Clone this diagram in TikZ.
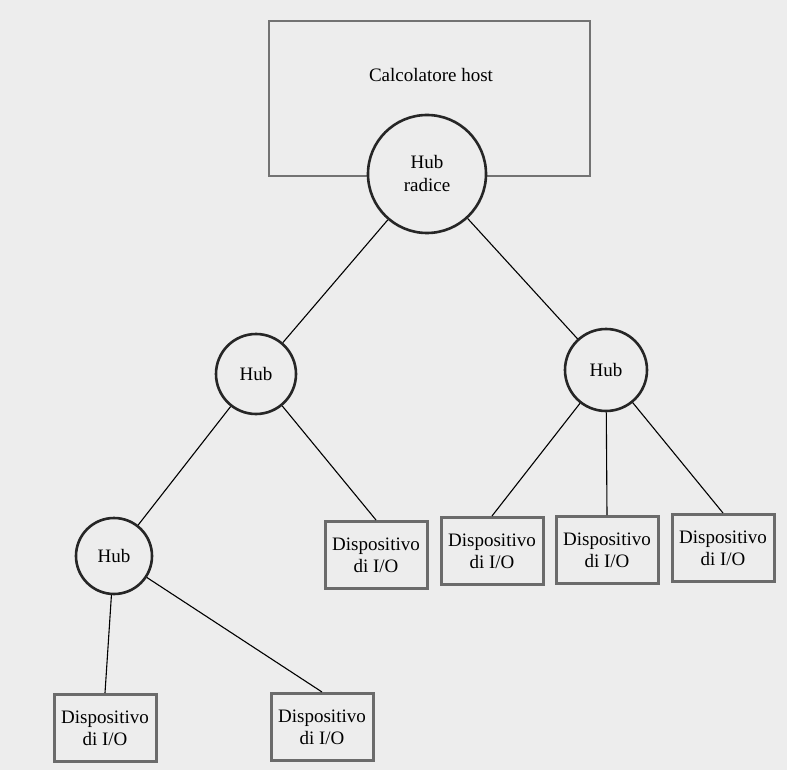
\documentclass[tikz,border=0pt]{standalone}
\usepackage{fontspec}
\setmainfont{Liberation Serif}
\definecolor{paper}{gray}{0.93}
\tikzset{
  hostbox/.style={rectangle, draw=black!55, line width=2.6pt,
    minimum width=321pt, minimum height=155pt},
  hub/.style={circle, draw=black!85, line width=2.6pt, fill=paper,
    minimum size=80pt, inner sep=0pt, align=center,
    font=\fontsize{19}{23}\selectfont},
  device/.style={rectangle, draw=black!58, line width=3pt,
    minimum width=102pt, minimum height=67pt, inner sep=2pt,
    align=center, font=\fontsize{19}{22}\selectfont},
  link/.style={line width=1.1pt, black}
}
\begin{document}
\begin{tikzpicture}[x=1pt, y=-1pt]
  % scanned page
  \fill[paper] (0, 0) rectangle (787, 770);
  % host computer
  \node[hostbox] (host) at (429.5, 98.5) {};
  \node[font=\fontsize{19}{23}\selectfont] (hosttext) at (431, 75) {Calcolatore host};
  % hubs
  \node[hub, minimum size=118pt] (root) at (427, 174) {Hub\\radice};
  \node[hub] (hubL) at (256, 374) {Hub};
  \node[hub, minimum size=82pt] (hubR) at (606, 370) {Hub};
  \node[hub, minimum size=76pt] (hubB) at (114, 556) {Hub};
  % I/O devices
  \node[device] (devL) at (376, 555) {Dispositivo\\di I/O};
  \node[device] (devR1) at (492, 551) {Dispositivo\\di I/O};
  \node[device] (devR2) at (607, 550) {Dispositivo\\di I/O};
  \node[device] (devR3) at (723, 548) {Dispositivo\\di I/O};
  \node[device] (devB1) at (105, 728) {Dispositivo\\di I/O};
  \node[device] (devB2) at (322, 727) {Dispositivo\\di I/O};
  % cables
  \draw[link] (root) -- (hubL);
  \draw[link] (root) -- (hubR);
  \draw[link] (hubL) -- (hubB);
  \draw[link] (hubL) -- (devL.north);
  \draw[link] (hubR) -- (devR1.north);
  \draw[link] (hubR) -- (devR2.north);
  \draw[link] (hubR) -- (devR3.north);
  \draw[link] (hubB) -- (devB1.north);
  \draw[link] (hubB) -- (devB2.north);
\end{tikzpicture}
\end{document}
